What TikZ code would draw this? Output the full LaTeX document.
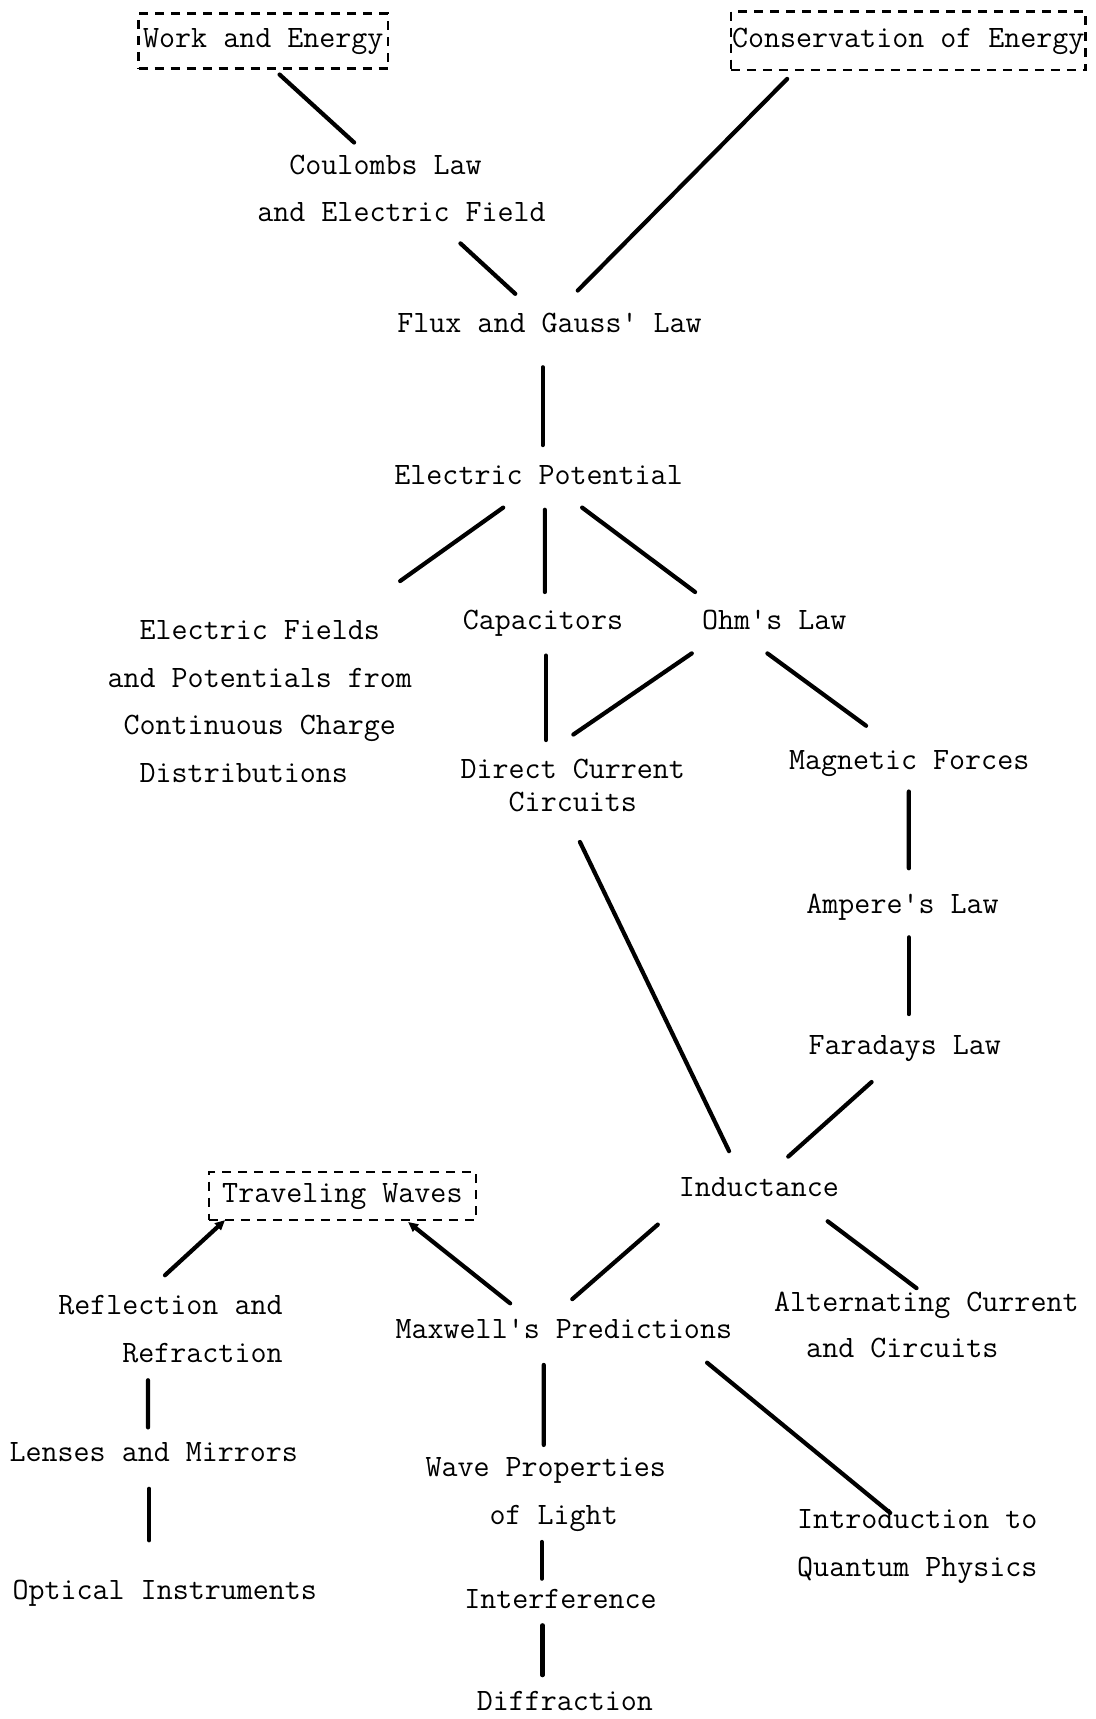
\documentclass[tikz,border=0pt]{standalone}
\usepackage{fontspec}
\usetikzlibrary{arrows.meta}
\newcommand\tlines[2]{\vtop{\baselineskip=#1\lineskiplimit=-1000pt\lineskip=0pt\halign{##\hfil\cr#2\crcr}}}
\newcommand\twfont{\ttfamily\addfontfeatures{FakeBold=1.8}\fontsize{31.1}{48}\selectfont}
\begin{document}
\begin{tikzpicture}[x=1.0961pt,y=-1.0961pt,
  every node/.style={font=\twfont, text=black},
  lbl/.style={anchor=base west, inner sep=0pt},
  dbox/.style={draw, line width=2.6pt, dash pattern=on 9pt off 7pt, text height=18pt, text depth=5pt},
  link/.style={line width=4.2pt, line cap=round},
  arr/.style={link, -{Triangle[length=10pt,width=9pt]}}]
\useasboundingbox (0,0) rectangle (999,1568);
\fill[white] (0,0) rectangle (999,1568);

% nodes
\node[dbox, inner xsep=4.5pt, inner ysep=16pt] (we) at (240.2,37.3) {Work and Energy};
\node[dbox, inner xsep=1.2pt, inner ysep=17.7pt] (ce) at (828.5,37.2) {Conservation of Energy};
\node[lbl] (cl) at (234.6,159) {\tlines{47pt}{~~Coulombs Law\cr and Electric Field}};
\node[lbl] (fg) at (362.3,303) {Flux and Gauss' Law};
\node[lbl] (ep) at (359.6,442) {Electric Potential};
\node[lbl] (ef) at (98,583) {\tlines{47.9pt}{~~Electric Fields\cr and Potentials from\cr ~Continuous Charge\cr ~~Distributions}};
\node[lbl] (cap) at (422,574) {Capacitors};
\node[lbl] (ohm) at (640.3,574) {Ohm's Law};
\node[lbl] (dcc) at (420,710) {\tlines{33.5pt}{Direct Current\cr ~~~Circuits}};
\node[lbl] (mf) at (719.5,702) {Magnetic Forces};
\node[lbl] (amp) at (735.4,833) {Ampere's Law};
\node[lbl] (far) at (737.4,962) {Faradays Law};
\node[lbl] (ind) at (619,1091) {Inductance};
\node[dbox, inner xsep=13.4pt, inner ysep=12.6pt] (tw) at (312.3,1091) {Traveling Waves};
\node[lbl] (rr) at (53,1199) {\tlines{48.2pt}{Reflection and\cr ~~~~Refraction}};
\node[lbl] (mx) at (360.7,1221) {Maxwell's Predictions};
\node[lbl] (ac) at (706,1196) {\tlines{46pt}{Alternating Current\cr ~~and Circuits}};
\node[lbl] (lm) at (8.6,1333) {Lenses and Mirrors};
\node[lbl] (oi) at (11.3,1459) {Optical Instruments};
\node[lbl] (wp) at (388,1347) {\tlines{48.2pt}{Wave Properties\cr ~~~~of Light}};
\node[lbl] (intf) at (423.4,1467) {Interference};
\node[lbl] (dif) at (434.7,1560) {Diffraction};
\node[lbl] (qp) at (727,1394) {\tlines{48.2pt}{Introduction to\cr Quantum Physics}};

% connectors
\draw[link] ([shift={(14.8,30.7)}]we.center) -- ([shift={(88.4,-29)}]cl.base west);
\draw[link] ([shift={(-110.5,34.8)}]ce.center) -- ([shift={(164.7,-38)}]fg.base west);
\draw[link] ([shift={(185.4,63)}]cl.base west) -- ([shift={(107.7,-35)}]fg.base west);
\draw[link] ([shift={(132.7,32)}]fg.base west) -- ([shift={(135.4,-36)}]ep.base west);
\draw[link] ([shift={(99.4,21)}]ep.base west) -- ([shift={(267,-53)}]ef.base west);
\draw[link] ([shift={(137.4,23)}]ep.base west) -- ([shift={(75,-34)}]cap.base west);
\draw[link] ([shift={(171.4,21)}]ep.base west) -- ([shift={(-6.3,-34)}]ohm.base west);
\draw[link] ([shift={(76,24)}]cap.base west) -- ([shift={(78,-35)}]dcc.base west);
\draw[link] ([shift={(-9.3,22)}]ohm.base west) -- ([shift={(103,-40)}]dcc.base west);
\draw[link] ([shift={(59.7,22)}]ohm.base west) -- ([shift={(70.5,-40)}]mf.base west);
\draw[link] ([shift={(109.5,20)}]mf.base west) -- ([shift={(93.6,-41)}]amp.base west);
\draw[link] ([shift={(93.6,22)}]amp.base west) -- ([shift={(91.6,-37)}]far.base west);
\draw[link] ([shift={(57.6,25)}]far.base west) -- ([shift={(100,-36)}]ind.base west);
\draw[link] ([shift={(109,58)}]dcc.base west) -- ([shift={(46,-41)}]ind.base west);
\draw[link] ([shift={(-19,26)}]ind.base west) -- ([shift={(161.3,-36)}]mx.base west);
\draw[link] ([shift={(136,23)}]ind.base west) -- ([shift={(130,-21)}]ac.base west);
\draw[arr] ([shift={(104.6,-32.2)}]mx.base west) -- ([shift={(59.9,23.6)}]tw.center);
\draw[arr] ([shift={(97.5,-35.8)}]rr.base west) -- ([shift={(-107,21.9)}]tw.center);
\draw[link] ([shift={(82,60)}]rr.base west) -- ([shift={(126.4,-31)}]lm.base west);
\draw[link] ([shift={(127.4,25)}]lm.base west) -- ([shift={(124.7,-54)}]oi.base west);
\draw[link] ([shift={(135.3,24)}]mx.base west) -- ([shift={(108,-29)}]wp.base west);
\draw[link] ([shift={(284.3,22)}]mx.base west) -- ([shift={(85,-14)}]qp.base west);
\draw[link] ([shift={(106.2,59.5)}]wp.base west) -- ([shift={(70.8,-27)}]intf.base west);
\draw[link] ([shift={(71.4,15.5)}]intf.base west) -- ([shift={(60.1,-32)}]dif.base west);
\end{tikzpicture}
\end{document}
